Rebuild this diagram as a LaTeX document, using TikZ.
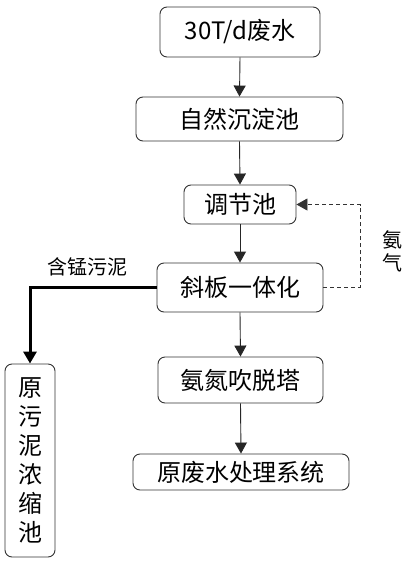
\documentclass[tikz,border=0pt]{standalone}
\usepackage{fontspec}
\setmainfont{Noto Sans CJK SC}
\usetikzlibrary{arrows.meta}
\tikzset{
  box/.style={draw=black!80, line width=0.9pt, rounded corners=7pt, inner sep=0pt, fill=white, font=\fontsize{24}{29}\selectfont},
  flow/.style={draw=black!85, line width=0.9pt, -{Triangle[width=12pt,length=11pt]}},
  gas/.style={draw=black!80, line width=0.9pt, dash pattern=on 4pt off 3pt, -{Triangle[width=12pt,length=11pt]}},
  sludge/.style={draw=black, line width=3pt, -{Triangle[width=13pt,length=12pt]}},
  lbl/.style={inner sep=0pt, font=\fontsize{20}{23}\selectfont}
}
\begin{document}
\begin{tikzpicture}[x=1pt,y=-1pt]
\useasboundingbox (0,0) rectangle (408,563);
\fill[white] (0,0) rectangle (408,563);
\node[box, minimum width=160pt, minimum height=50pt] (b1) at (240,32) {30T/d废水};
\node[box, minimum width=207pt, minimum height=44pt] (b2) at (239.5,119) {自然沉淀池};
\node[box, minimum width=112pt, minimum height=39pt] (b3) at (240,204.5) {调节池};
\node[box, minimum width=166pt, minimum height=49pt] (b4) at (240,287.5) {斜板一体化};
\node[box, minimum width=165pt, minimum height=46pt] (b5) at (240.5,380) {氨氮吹脱塔};
\node[box, minimum width=216pt, minimum height=36pt] (b6) at (241,472) {原废水处理系统};
\node[box, minimum width=50pt, minimum height=193pt, align=center] (b7) at (30,460.5) {原\\污\\泥\\浓\\缩\\池};
\coordinate (d1) at (360,287.5);
\coordinate (d2) at (360,204.5);
\draw[flow] (b1.south) -- (b2.north);
\draw[flow] (b2.south) -- (b3.north);
\draw[flow] (b3.south) -- (b4.north);
\draw[flow] (b4.south) -- (b5.north);
\draw[flow] (b5.south) -- (b6.north);
\draw[gas] (b4.east) -- (d1) -- (d2) -- (b3.east);
\draw[sludge] (b4.west) -| (b7.north);
\node[lbl] (l1) at (87,267) {含锰污泥};
\node[lbl, align=center] (l2) at (392,251.5) {氨\\气};
\end{tikzpicture}
\end{document}
